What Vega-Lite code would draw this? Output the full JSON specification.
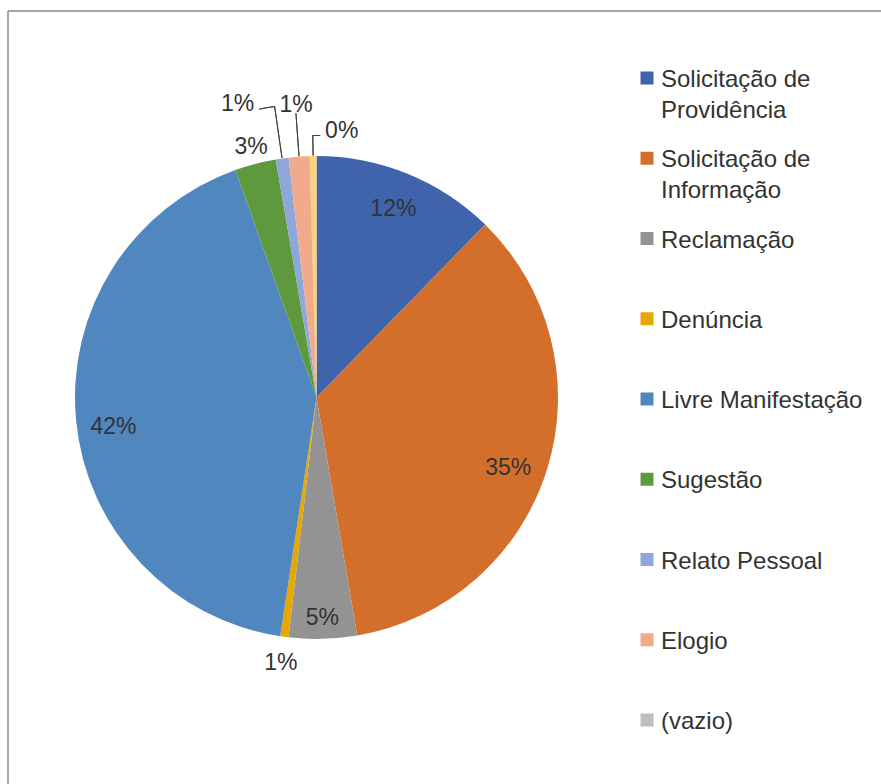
{
  "$schema": "https://vega.github.io/schema/vega-lite/v6.json",
  "width": 617,
  "height": 773,
  "autosize": {"type": "none"},
  "padding": {"left": 8, "top": 11, "right": 256, "bottom": 0},
  "background": "white",
  "view": {"stroke": "#8a8a8a", "strokeWidth": 1.5, "strokeDash": [572, 1435, 773, 0]},
  "config": {
    "view": {"stroke": "#8a8a8a", "strokeWidth": 1.5, "strokeDash": [572, 1435, 773, 0]},
    "style": {"cell": {"stroke": "#8a8a8a", "strokeWidth": 1.5, "strokeDash": [572, 1435, 773, 0]}},
    "text": {"font": "Liberation Sans", "fontSize": 23, "fill": "#333333"}
  },
  "data": {
    "values": [
      {"cat": "Solicitação de Providência", "value": 12.3, "label": "12%", "idx": 1},
      {"cat": "Solicitação de Informação", "value": 35.0, "label": "35%", "idx": 2},
      {"cat": "Reclamação", "value": 4.55, "label": "5%", "idx": 3},
      {"cat": "Denúncia", "value": 0.55, "label": "1%", "idx": 4},
      {"cat": "Livre Manifestação", "value": 42.15, "label": "42%", "idx": 5},
      {"cat": "Sugestão", "value": 2.75, "label": "3%", "idx": 6},
      {"cat": "Relato Pessoal", "value": 0.85, "label": "1%", "idx": 7},
      {"cat": "Elogio", "value": 1.4, "label": "1%", "idx": 8},
      {"cat": "(vazio)", "value": 0.45, "label": "0%", "idx": 9}
    ]
  },
  "encoding": {
    "theta": {"field": "value", "type": "quantitative", "stack": true},
    "order": {"field": "idx", "type": "quantitative"}
  },
  "layer": [
    {
      "mark": {"type": "arc", "radius": 241.5},
      "encoding": {
        "color": {
          "field": "cat",
          "type": "nominal",
          "scale": {
            "domain": ["Solicitação de Providência", "Solicitação de Informação", "Reclamação", "Denúncia", "Livre Manifestação", "Sugestão", "Relato Pessoal", "Elogio", "(vazio)"],
            "range": ["#3F64AB", "#D46F2B", "#939393", "#E4A800", "#4F87BE", "#5E9A3D", "#8EA7D9", "#F2AA8C", "#BFBFBF"]
          },
          "legend": {
            "orient": "none",
            "legendX": 572,
            "legendY": 0,
            "padding": 55,
            "title": null,
            "symbolType": "square",
            "symbolSize": 169,
            "symbolStrokeWidth": 0,
            "labelFont": "Liberation Sans",
            "labelFontSize": 24,
            "labelColor": "#333333",
            "labelLimit": 400,
            "labelOffset": 2,
            "labelBaseline": "top",
            "gridAlign": "all",
            "rowPadding": 23.25,
            "labelExpr": "datum.label == 'Solicitação de Providência' ? ['Solicitação de', 'Providência'] : datum.label == 'Solicitação de Informação' ? ['Solicitação de', 'Informação'] : datum.label",
            "encode": {
              "legend": {"update": {"stroke": {"value": "#8a8a8a"}, "strokeWidth": {"value": 1.5}, "strokeDash": {"value": [1000, 5000]}}},
              "labels": {"update": {"dy": {"value": -10}, "lineHeight": {"value": 31}}}
            }
          }
        }
      }
    },
    {
      "mark": {"type": "arc", "radius": 241.5, "fill": "#FFD27F"},
      "encoding": {"fillOpacity": {"condition": {"test": "datum.cat == '(vazio)'", "value": 1}, "value": 0}}
    },
    {
      "mark": {"type": "arc", "radius": 294, "radius2": 242, "padAngle": 3, "fillOpacity": 0, "stroke": "#404040", "strokeWidth": 1},
      "encoding": {"strokeOpacity": {"condition": {"test": "datum.cat == 'Relato Pessoal'", "value": 1}, "value": 0}}
    },
    {
      "mark": {"type": "arc", "radius": 294, "radius2": 294, "thetaOffset": -0.0258, "theta2Offset": -0.0267, "fillOpacity": 0, "stroke": "#404040", "strokeWidth": 1},
      "encoding": {"strokeOpacity": {"condition": {"test": "datum.cat == 'Relato Pessoal'", "value": 1}, "value": 0}}
    },
    {
      "mark": {"type": "arc", "radius": 285, "radius2": 242, "padAngle": 3, "fillOpacity": 0, "stroke": "#404040", "strokeWidth": 1},
      "encoding": {"strokeOpacity": {"condition": {"test": "datum.cat == 'Elogio'", "value": 1}, "value": 0}}
    },
    {
      "mark": {"type": "arc", "radius": 262, "radius2": 242, "padAngle": 3, "fillOpacity": 0, "stroke": "#404040", "strokeWidth": 1},
      "encoding": {"strokeOpacity": {"condition": {"test": "datum.cat == '(vazio)'", "value": 1}, "value": 0}}
    },
    {
      "mark": {"type": "arc", "radius": 262, "radius2": 262, "thetaOffset": 0.0141, "theta2Offset": 0.0401, "fillOpacity": 0, "stroke": "#404040", "strokeWidth": 1},
      "encoding": {"strokeOpacity": {"condition": {"test": "datum.cat == '(vazio)'", "value": 1}, "value": 0}}
    },
    {
      "mark": {"type": "text", "radius": 204},
      "encoding": {"text": {"condition": {"test": "datum.cat == 'Solicitação de Providência'", "field": "label"}, "value": ""}}
    },
    {
      "mark": {"type": "text", "radius": 204, "dx": -3, "dy": 10},
      "encoding": {"text": {"condition": {"test": "datum.cat == 'Solicitação de Informação'", "field": "label"}, "value": ""}}
    },
    {
      "mark": {"type": "text", "radius": 204, "dy": 10},
      "encoding": {"text": {"condition": {"test": "datum.cat == 'Livre Manifestação'", "field": "label"}, "value": ""}}
    },
    {
      "mark": {"type": "text", "radius": 221},
      "encoding": {"text": {"condition": {"test": "datum.cat == 'Reclamação'", "field": "label"}, "value": ""}}
    },
    {
      "mark": {"type": "text", "radius": 258.5},
      "encoding": {"text": {"condition": {"test": "datum.cat == 'Sugestão'", "field": "label"}, "value": ""}}
    },
    {
      "mark": {"type": "text", "radius": 268},
      "encoding": {"text": {"condition": {"test": "datum.cat == 'Denúncia'", "field": "label"}, "value": ""}}
    },
    {
      "mark": {"type": "text", "radius": 294, "dx": -37, "dy": -2},
      "encoding": {"text": {"condition": {"test": "datum.cat == 'Relato Pessoal'", "field": "label"}, "value": ""}}
    },
    {
      "mark": {"type": "text", "radius": 295, "dx": 1, "dy": 2},
      "encoding": {"text": {"condition": {"test": "datum.cat == 'Elogio'", "field": "label"}, "value": ""}}
    },
    {
      "mark": {"type": "text", "radius": 268, "dx": 29, "dy": 1},
      "encoding": {"text": {"condition": {"test": "datum.cat == '(vazio)'", "field": "label"}, "value": ""}}
    }
  ]
}
